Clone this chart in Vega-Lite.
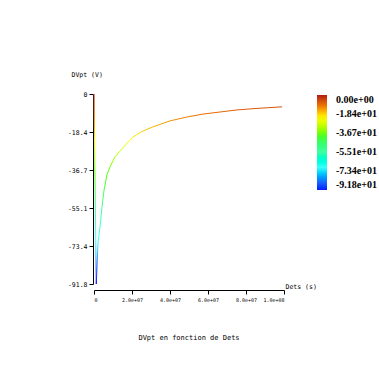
{
  "$schema": "https://vega.github.io/schema/vega-lite/v6.json",
  "width": 190,
  "height": 190,
  "autosize": "none",
  "padding": {"left": 94, "top": 94, "right": 95, "bottom": 95},
  "background": "white",
  "title": {"text": "DVpt en fonction de Dets", "orient": "bottom", "anchor": "middle", "offset": 32, "font": "DejaVu Sans Mono", "fontSize": 7, "fontWeight": "normal", "color": "black"},
  "config": {"view": {"stroke": null}},
  "data": {"values": [
    {"t": 0, "V": 0},
    {"t": 1200000, "V": -91.8},
    {"t": 2100000, "V": -72},
    {"t": 3200000, "V": -64},
    {"t": 4200000, "V": -54.6},
    {"t": 5300000, "V": -46.4},
    {"t": 6800000, "V": -39.1},
    {"t": 8400000, "V": -35.3},
    {"t": 11000000, "V": -30.4},
    {"t": 14200000, "V": -27.1},
    {"t": 17900000, "V": -23.2},
    {"t": 20500000, "V": -20.8},
    {"t": 25000000, "V": -18.2},
    {"t": 31000000, "V": -15.9},
    {"t": 40000000, "V": -13.0},
    {"t": 49000000, "V": -11.1},
    {"t": 57400000, "V": -9.7},
    {"t": 66300000, "V": -8.7},
    {"t": 75300000, "V": -7.7},
    {"t": 83700000, "V": -7.1},
    {"t": 92000000, "V": -6.6},
    {"t": 99000000, "V": -6.2}
  ]},
  "encoding": {
    "x": {"field": "t", "type": "quantitative",
      "scale": {"domain": [0, 100000000], "nice": false, "zero": false},
      "axis": {"values": [0, 20000000, 40000000, 60000000, 80000000, 100000000], "grid": false, "offset": 6,
        "domainColor": "black", "tickColor": "black", "tickSize": 4, "labelPadding": 3,
        "labelFont": "DejaVu Sans Mono", "labelFontSize": 5, "labelColor": "black",
        "labelExpr": "datum.value == 0 ? '0' : replace(format(datum.value, '.1e'), 'e+', 'e+0')",
        "title": "Dets (s)", "titleFont": "DejaVu Sans Mono", "titleFontSize": 6.5, "titleFontWeight": "normal", "titleColor": "black",
        "titleX": 191, "titleY": -4, "titleAlign": "left", "titleBaseline": "middle", "titleAnchor": null}},
    "y": {"field": "V", "type": "quantitative",
      "scale": {"domain": [-91.8, 0], "nice": false, "zero": false},
      "axis": {"values": [0, -18.36, -36.72, -55.08, -73.44, -91.8], "grid": false, "offset": 1,
        "domainColor": "black", "tickColor": "black", "tickSize": 4, "labelPadding": 2,
        "labelFont": "DejaVu Sans Mono", "labelFontSize": 6.5, "labelColor": "black",
        "labelExpr": "datum.value == 0 ? '0' : '-' + format(-datum.value, '.1f')",
        "title": "DVpt (V)", "titleFont": "DejaVu Sans Mono", "titleFontSize": 6.5, "titleFontWeight": "normal", "titleColor": "black",
        "titleAngle": 0, "titleX": -22, "titleY": -20, "titleAlign": "left", "titleBaseline": "middle", "titleAnchor": null}}
  },
  "layer": [
    {
      "mark": {"type": "point", "opacity": 0},
      "encoding": {
        "color": {"field": "V", "type": "quantitative",
          "scale": {"domain": [-91.8, -82.62, -70.686, -55.08, -38.556, -22.032, -11.016, 0],
                    "range": ["#1414ff", "#3070ff", "#40ffff", "#40ffa0", "#50ff00", "#ffff00", "#f07a00", "#b01c10"]},
          "legend": {"orient": "none", "legendX": 223, "legendY": 1, "title": null, "padding": 0,
            "direction": "vertical", "gradientLength": 95, "gradientThickness": 10, "gradientStrokeWidth": 0,
            "values": [0, -18.36, -36.72, -55.08, -73.44, -91.8], "labelOverlap": false,
            "labelOffset": 9, "labelFont": "Liberation Serif", "labelFontSize": 10, "labelFontWeight": "bold", "labelColor": "black",
            "labelExpr": "replace(replace(format(datum.value, '.2e'), '\u2212', '-'), regexp('e\\\\+(\\\\d)$'), 'e+0$1')"}}
      }
    },
    {
      "mark": {"type": "line", "strokeWidth": 1,
        "stroke": {"gradient": "linear", "x1": 0, "y1": 0, "x2": 0, "y2": 1,
          "stops": [
            {"offset": 0, "color": "#b01c10"},
            {"offset": 0.12, "color": "#f07a00"},
            {"offset": 0.24, "color": "#ffff00"},
            {"offset": 0.42, "color": "#50ff00"},
            {"offset": 0.6, "color": "#40ffa0"},
            {"offset": 0.77, "color": "#40ffff"},
            {"offset": 0.9, "color": "#3070ff"},
            {"offset": 1, "color": "#1414ff"}
          ]}},
      "encoding": {}
    }
  ]
}
